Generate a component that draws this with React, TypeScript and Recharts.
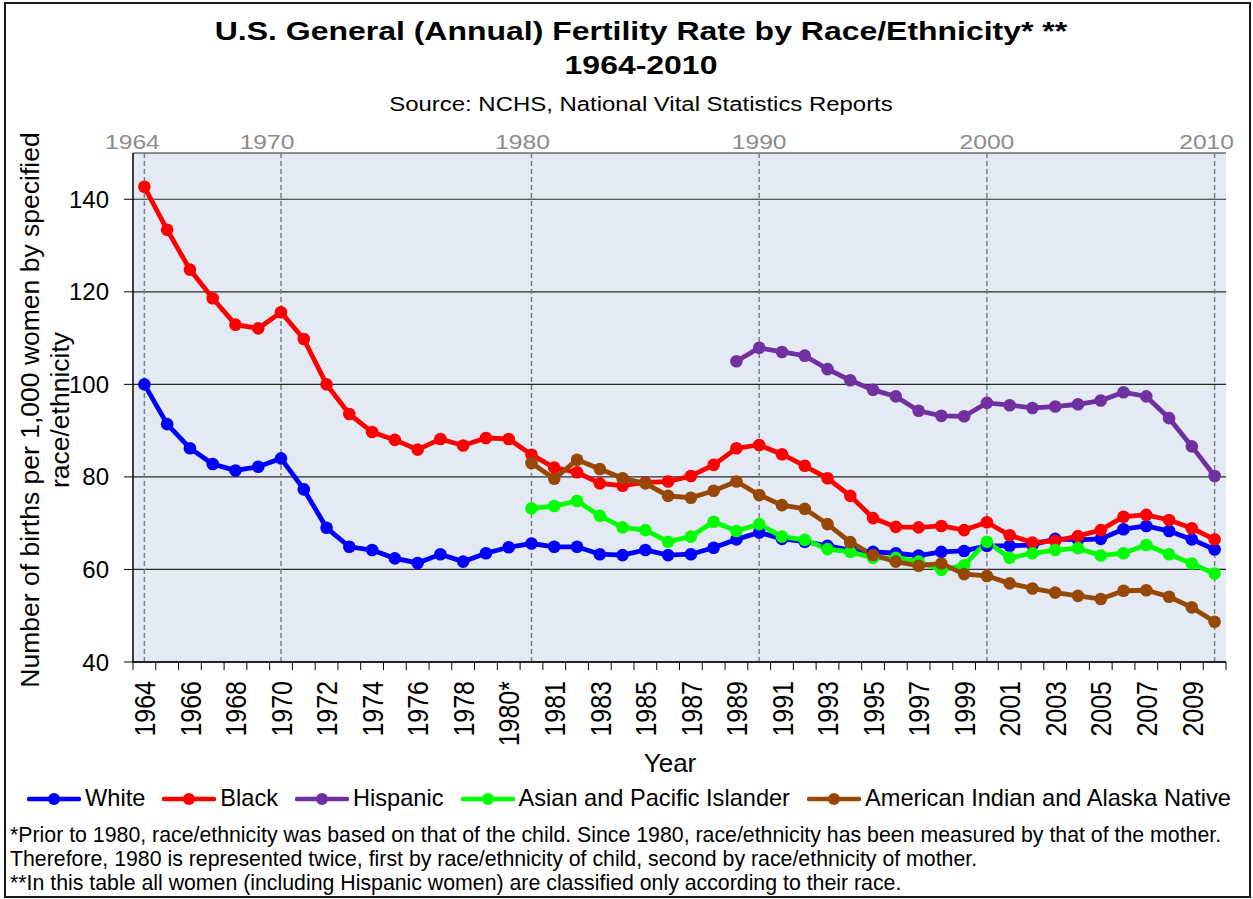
import React from 'react';
import { LineChart, Line, XAxis, YAxis, CartesianGrid, ReferenceLine } from 'recharts';

// 1980 appears twice: "1980*" = race of child, "1980" = race of mother
const YEARS = [
  '1964', '1965', '1966', '1967', '1968', '1969', '1970', '1971', '1972', '1973',
  '1974', '1975', '1976', '1977', '1978', '1979', '1980*', '1980', '1981', '1982',
  '1983', '1984', '1985', '1986', '1987', '1988', '1989', '1990', '1991', '1992',
  '1993', '1994', '1995', '1996', '1997', '1998', '1999', '2000', '2001', '2002',
  '2003', '2004', '2005', '2006', '2007', '2008', '2009', '2010',
];

const WHITE = [
  100.0, 91.4, 86.2, 82.8, 81.4, 82.2, 84.0, 77.3, 69.0, 64.9,
  64.2, 62.4, 61.4, 63.3, 61.7, 63.5, 64.8, 65.6, 64.9, 64.9,
  63.3, 63.1, 64.2, 63.1, 63.3, 64.7, 66.5, 68.0, 66.6, 66.0,
  65.1, 64.2, 63.8, 63.5, 63.0, 63.8, 64.0, 65.1, 65.1, 65.3,
  66.6, 66.4, 66.6, 68.7, 69.4, 68.3, 66.5, 64.3,
];

const BLACK = [
  142.7, 133.4, 124.8, 118.6, 112.9, 112.1, 115.6, 109.8, 100.0, 93.6,
  89.7, 88.0, 85.9, 88.2, 86.8, 88.4, 88.2, 84.8, 82.0, 81.0,
  78.6, 78.1, 78.8, 79.0, 80.2, 82.6, 86.2, 86.9, 84.9, 82.4,
  79.7, 75.9, 71.1, 69.2, 69.1, 69.4, 68.5, 70.2, 67.4, 65.8,
  66.2, 67.2, 68.5, 71.4, 71.8, 70.7, 68.9, 66.5,
];

const HISPANIC = [
  null, null, null, null, null, null, null, null, null, null,
  null, null, null, null, null, null, null, null, null, null,
  null, null, null, null, null, null, 105.0, 107.9, 107.0, 106.2,
  103.3, 100.9, 98.8, 97.4, 94.3, 93.2, 93.1, 96.0, 95.5, 94.9,
  95.2, 95.7, 96.5, 98.3, 97.4, 92.7, 86.6, 80.2,
];

const ASIAN = [
  null, null, null, null, null, null, null, null, null, null,
  null, null, null, null, null, null, null, 73.2, 73.7, 74.8,
  71.6, 69.1, 68.5, 66.0, 67.1, 70.3, 68.3, 69.8, 67.1, 66.4,
  64.4, 63.8, 62.5, 62.5, 61.7, 59.9, 60.9, 66.0, 62.5, 63.5,
  64.2, 64.6, 63.0, 63.5, 65.3, 63.3, 61.3, 59.1,
];

const AIAN = [
  null, null, null, null, null, null, null, null, null, null,
  null, null, null, null, null, null, null, 83.0, 79.6, 83.7,
  81.7, 79.7, 78.6, 75.9, 75.5, 77.0, 79.0, 76.1, 73.9, 73.1,
  69.8, 65.9, 63.1, 61.7, 60.8, 61.3, 59.0, 58.6, 57.0, 55.9,
  55.0, 54.3, 53.6, 55.4, 55.5, 54.1, 51.8, 48.7,
];

const SERIES = [
  { key: 'white', label: 'White', color: '#0000FF', values: WHITE },
  { key: 'black', label: 'Black', color: '#FF0000', values: BLACK },
  { key: 'hispanic', label: 'Hispanic', color: '#7030A0', values: HISPANIC },
  { key: 'asian', label: 'Asian and Pacific Islander', color: '#00FF00', values: ASIAN },
  { key: 'aian', label: 'American Indian and Alaska Native', color: '#974706', values: AIAN },
];

const Y_TICKS = [40, 60, 80, 100, 120, 140];

// decade markers on top, with the small label nudge seen in the original
const MARKS = ['1964', '1970', '1980', '1990', '2000', '2010'];
const MARK_DX = [-12, -14, -9, 0, 0, -8];

const FOOTNOTES = [
  '*Prior to 1980, race/ethnicity was based on that of the child. Since 1980, race/ethnicity has been measured by that of the mother.',
  'Therefore, 1980 is represented twice, first by race/ethnicity of child, second by race/ethnicity of mother.',
  '**In this table all women (including Hispanic women) are classified only according to their race.',
];

const W = 1253;
const H = 899;
const Y_AXIS_W = 133;
const X_AXIS_H = 237;
const RIGHT = 27;
const TOP = 153;
const AXIS_Y = H - X_AXIS_H;
const STEP = (W - RIGHT - Y_AXIS_W) / YEARS.length;
const FONT = '"Liberation Sans", Arial, Helvetica, sans-serif';

const data = YEARS.map((year, i) => {
  const row: Record<string, string | number | null> = { year };
  SERIES.forEach(s => { row[s.key] = s.values[i]; });
  return row;
});

function YearTick({ x, payload, index }: any) {
  const i = payload?.index ?? index;
  const last = i === YEARS.length - 1;
  return (
    <g>
      <line x1={x - STEP / 2} x2={x - STEP / 2} y1={AXIS_Y} y2={AXIS_Y + 8} stroke="#000" />
      {last && <line x1={x + STEP / 2} x2={x + STEP / 2} y1={AXIS_Y} y2={AXIS_Y + 8} stroke="#000" />}
      {i % 2 === 0 && (
        <text
          transform={`translate(${x},${AXIS_Y + 19}) scale(1.19,1) rotate(-90)`}
          textAnchor="end"
          dy="0.36em"
          fontSize={25}
          fontFamily={FONT}
          fill="#000"
        >
          {payload.value}
        </text>
      )}
    </g>
  );
}

function markLabel(text: string, dx: number) {
  return (p: any) => (
    <text
      transform={`translate(${p.viewBox.x + dx},${p.viewBox.y - 4}) scale(1.23,1)`}
      textAnchor="middle"
      fontSize={20}
      fontFamily={FONT}
      fill="#8c8c8c"
    >
      {text}
    </text>
  );
}

function LegendRow() {
  return (
    <div style={{ position: 'absolute', left: 27, top: 785, display: 'flex', alignItems: 'center', fontFamily: FONT, fontSize: 23.6, color: '#000' }}>
      {SERIES.map(s => (
        <div key={s.key} style={{ display: 'flex', alignItems: 'center', marginRight: 17 }}>
          <svg width={54} height={26}>
            <line x1={2} x2={52} y1={13} y2={13} stroke={s.color} strokeWidth={4.5} strokeLinecap="round" />
            <circle cx={27} cy={13} r={6} fill={s.color} />
          </svg>
          <span style={{ marginLeft: 4, whiteSpace: 'nowrap' }}>{s.label}</span>
        </div>
      ))}
    </div>
  );
}

export default function App() {
  return (
    <div style={{ position: 'relative', width: W, height: H, background: '#fff', overflow: 'hidden' }}>
      <style>{'body{margin:0}'}</style>
      <LineChart width={W} height={H} data={data} margin={{ top: TOP, right: RIGHT, bottom: 0, left: 0 }}>
        <CartesianGrid vertical={false} stroke="#2a2a2a" strokeWidth={1.2} fill="#E4EAF4" fillOpacity={1} />
        <XAxis
          dataKey="year"
          interval={0}
          height={X_AXIS_H}
          padding={{ left: STEP / 2, right: STEP / 2 }}
          tickLine={false}
          tick={<YearTick />}
          axisLine={{ stroke: '#000', strokeWidth: 1.5 }}
        />
        <XAxis
          xAxisId="top"
          dataKey="year"
          orientation="top"
          height={0}
          tick={false}
          tickLine={false}
          axisLine={{ stroke: '#8c8c8c', strokeWidth: 2 }}
        />
        <YAxis
          domain={[40, 150]}
          ticks={Y_TICKS}
          width={Y_AXIS_W}
          tickSize={9}
          tickMargin={15}
          tick={{ fontSize: 24, fill: '#000', fontFamily: FONT }}
          tickLine={{ stroke: '#000' }}
          axisLine={{ stroke: '#000', strokeWidth: 1.5 }}
          allowDataOverflow
        />
        <YAxis
          yAxisId="right"
          orientation="right"
          type="number"
          domain={[40, 150]}
          width={0}
          tick={false}
          tickLine={false}
          axisLine={{ stroke: '#8c8c8c', strokeWidth: 2.5 }}
        />
        {MARKS.map((m, i) => (
          <ReferenceLine
            key={m}
            x={m}
            stroke="#7f7f7f"
            strokeWidth={1.5}
            strokeDasharray="5 3"
            label={markLabel(m, MARK_DX[i])}
          />
        ))}
        {SERIES.map(s => (
          <Line
            key={s.key}
            type="linear"
            dataKey={s.key}
            name={s.label}
            stroke={s.color}
            strokeWidth={4.8}
            dot={{ r: 6.3, fill: s.color, stroke: s.color, strokeWidth: 0 }}
            activeDot={false}
            isAnimationActive={false}
          />
        ))}
      </LineChart>

      <svg width={W} height={H} style={{ position: 'absolute', left: 0, top: 0, pointerEvents: 'none' }} fontFamily={FONT}>
        <rect x={5} y={3} width={1245} height={894} fill="none" stroke="#1a1a1a" strokeWidth={2} />
        <g fontWeight="bold" fontSize={26} textAnchor="middle" fill="#000">
          <text transform="translate(641,40) scale(1.23,1)">U.S. General (Annual) Fertility Rate by Race/Ethnicity* **</text>
          <text transform="translate(641,74) scale(1.23,1)">1964-2010</text>
        </g>
        <text transform="translate(641,111) scale(1.14,1)" textAnchor="middle" fontSize={21} fill="#000">
          Source: NCHS, National Vital Statistics Reports
        </text>
        <g fontSize={26.5} textAnchor="middle" fill="#000">
          <text transform="rotate(-90)" x={-410} y={39}>Number of births per 1,000 women by specified</text>
          <text transform="rotate(-90)" x={-410} y={69}>race/ethnicity</text>
        </g>
        <text x={670} y={772} textAnchor="middle" fontSize={26} fill="#000">Year</text>
      </svg>

      <LegendRow />

      <div style={{ position: 'absolute', left: 10, top: 823, fontFamily: FONT, fontSize: 21.3, lineHeight: '24px', color: '#000', whiteSpace: 'nowrap' }}>
        {FOOTNOTES.map(f => <div key={f}>{f}</div>)}
      </div>
    </div>
  );
}
